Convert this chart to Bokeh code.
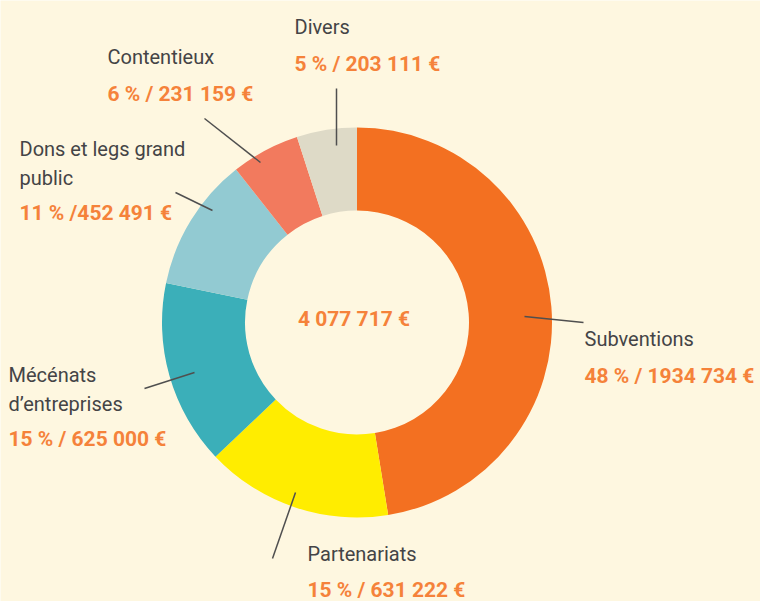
import numpy as np
from bokeh.plotting import figure
from bokeh.models import Range1d, ColumnDataSource
from bokeh.core.properties import value
from bokeh.embed import file_html
from bokeh.resources import INLINE

# ---- data ----
categories = ["Subventions", "Partenariats", "Mécénats d’entreprises",
              "Dons et legs grand public", "Contentieux", "Divers"]
amounts = [1934734, 631222, 625000, 452491, 231159, 203111]
value_labels = ["48 % / 1934 734 €", "15 % / 631 222 €", "15 % / 625 000 €",
                "11 % /452 491 €", "6 % / 231 159 €", "5 % / 203 111 €"]
name_lines = [["Subventions"], ["Partenariats"], ["Mécénats", "d’entreprises"],
              ["Dons et legs grand", "public"], ["Contentieux"], ["Divers"]]
total_label = "4 077 717 €"

# ---- styling / layout ----
colors = ["#F37021", "#FFED00", "#3BAFB9", "#92CAD2", "#F27A5E", "#DEDAC7"]
BG = "#FEF7E0"
GRAY = "#444446"
ORANGE = "#F5823A"
FONT = "Roboto"
CX, CY = 356.5, 322.0          # donut centre in page pixels
R_OUT, R_IN = 195, 112
W, H = 760, 601
TEXT_SHIFT = 9                 # renderer places alphabetic baseline lower

# label anchor: left x, baseline of first name line (page px), line step
label_x = [584, 307, 8, 19, 107, 294]
label_y = [347, 562, 383, 157, 65, 35]
name_step = 29
value_gap = [37, 36, 35, 35, 37, 37]
# leader lines (page px): x0, y0, x1, y1
lead = [(524, 316, 583, 322), (295, 492, 272, 558), (194, 372, 144, 388),
        (212, 210, 175, 192), (260, 162, 204, 118), (336, 145, 336, 88)]

def X(px):
    return px - CX

def Y(py):
    return CY - py

def TY(py):
    return CY - (py - TEXT_SHIFT)

p = figure(width=W, height=H, output_backend="svg", toolbar_location=None,
           x_range=Range1d(X(0), X(W)), y_range=Range1d(Y(H), Y(0)),
           min_border=0)
p.axis.visible = False
p.grid.visible = False
p.outline_line_color = None
p.background_fill_color = BG
p.border_fill_color = BG

total = float(sum(amounts))
frac = np.array(amounts) / total
cum = np.concatenate([[0], np.cumsum(frac)])
start = np.pi / 2 - 2 * np.pi * cum[:-1]
end = np.pi / 2 - 2 * np.pi * cum[1:]

src = ColumnDataSource(dict(start=start, end=end, color=colors, cat=categories))
p.annular_wedge(x=0, y=0, inner_radius=R_IN, outer_radius=R_OUT,
                start_angle="start", end_angle="end", direction="clock",
                color="color", line_color=None, source=src)

# leader lines
p.segment(x0=[X(l[0]) for l in lead], y0=[Y(l[1]) for l in lead],
          x1=[X(l[2]) for l in lead], y1=[Y(l[3]) for l in lead],
          line_color="#4F4F4F", line_width=1.5)

# labels
nx, ny, nt, vx, vy, vt = [], [], [], [], [], []
for i, lines in enumerate(name_lines):
    for j, t in enumerate(lines):
        nx.append(X(label_x[i]))
        ny.append(TY(label_y[i] + j * name_step))
        nt.append(t)
    vx.append(X(label_x[i]))
    vy.append(TY(label_y[i] + (len(lines) - 1) * name_step + value_gap[i]))
    vt.append(value_labels[i])

p.text(x=nx, y=ny, text=nt, text_font=value(FONT), text_font_size="20px",
       text_color=GRAY, text_baseline="alphabetic", text_align="left")
p.text(x=vx, y=vy, text=vt, text_font=value(FONT), text_font_size="21px",
       text_font_style="bold", text_color=ORANGE, text_baseline="alphabetic",
       text_align="left")
p.text(x=[X(353.5)], y=[TY(327)], text=[total_label], text_font=value(FONT),
       text_font_size="21px", text_font_style="bold", text_color=ORANGE,
       text_baseline="alphabetic", text_align="center")

open("out.html", "w").write(file_html(p, INLINE))
